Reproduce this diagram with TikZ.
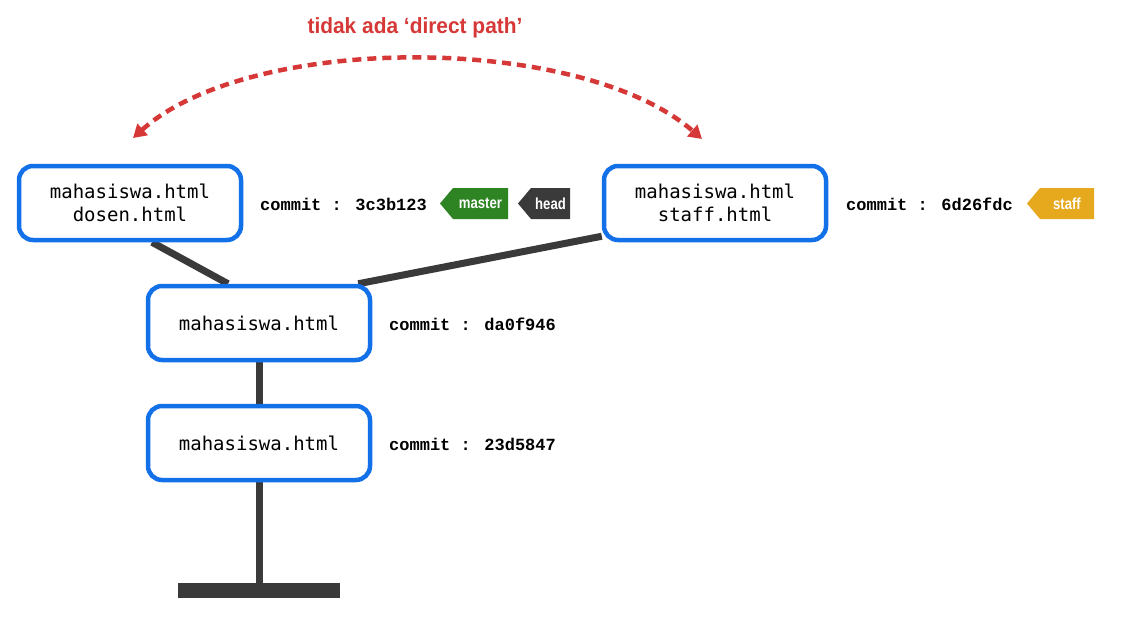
\documentclass[tikz,border=0pt]{standalone}
\usepackage{fontspec}
\setmainfont{Liberation Sans}
\newfontfamily\boxmono{DejaVu Sans Mono}
\newfontfamily\commitmono{Liberation Mono}
\usetikzlibrary{arrows.meta,backgrounds}
\definecolor{boxblue}{RGB}{18,112,232}
\definecolor{linegray}{RGB}{58,58,58}
\definecolor{tagred}{RGB}{214,56,56}
\definecolor{taggreen}{RGB}{46,132,34}
\definecolor{taggold}{RGB}{230,168,28}
\tikzset{
  filebox/.style={draw=boxblue, line width=4.5pt, rounded corners=14pt, fill=white,
    minimum width=222pt, minimum height=74pt, align=center,
    font=\boxmono\fontsize{19}{23}\selectfont, inner sep=0pt},
  commitlbl/.style={anchor=west, font=\commitmono\bfseries\fontsize{17}{20}\selectfont, inner sep=0pt},
  branch/.style={line width=7pt, draw=linegray},
  tagtext/.style={text=white, inner sep=0pt, font=\bfseries\fontsize{16}{18}\selectfont},
}
% tag: name, colour, left x, right x, text
\newcommand{\gittag}[5]{%
  \fill[#2] (#3,203.5) -- (#3+13,188) -- (#4,188) -- (#4,219) -- (#3+13,219) -- cycle;
  \node[tagtext] (#1) at ({(#3+13+#4)/2},203.5) {\scalebox{0.82}[1]{#5}};
}
\begin{document}
\begin{tikzpicture}[x=1pt,y=-1pt]
\useasboundingbox (0,0) rectangle (1131,625);
\begin{scope}[on background layer]
\fill[white] (0,0) rectangle (1131,625);
\end{scope}

\node[tagred, font=\bfseries\fontsize{22}{25}\selectfont] (title) at (415,28) {\scalebox{0.95}[1]{tidak ada ‘direct path’}};

\node[filebox] (A) at (130,203) {mahasiswa.html\\dosen.html};
\node[filebox] (D) at (715,203) {mahasiswa.html\\staff.html};
\node[filebox] (B) at (259,323) {mahasiswa.html};
\node[filebox] (C) at (259,443) {mahasiswa.html};
\node[fill=linegray, minimum width=162pt, minimum height=15pt, inner sep=0pt] (bar) at (259,590.5) {};

\node[commitlbl] (cA) at (260,204) {commit : 3c3b123};
\node[commitlbl] (cD) at (846,204) {commit : 6d26fdc};
\node[commitlbl] (cB) at (389,324) {commit : da0f946};
\node[commitlbl] (cC) at (389,444) {commit : 23d5847};

\gittag{master}{taggreen}{440}{508}{master}
\gittag{head}{linegray}{518}{570}{head}
\gittag{staff}{taggold}{1027}{1094}{staff}

\begin{scope}[on background layer]
\draw[branch] ([xshift=22pt]A.south) -- ([xshift=-31pt]B.north);
\draw[branch] ([yshift=6pt]D.south west) -- ([xshift=-14pt]B.north east);
\draw[branch] (B.south) -- (C.north);
\draw[branch] (C.south) -- (bar.north);
\end{scope}

\coordinate (arcL) at (133,138);
\coordinate (arcR) at (702,139);
\draw[tagred, line width=4.5pt, dash pattern=on 9pt off 6pt,
  {Triangle[length=13pt,width=15pt]}-{Triangle[length=13pt,width=15pt]}]
  (arcL) .. controls (250,33) and (580,33) .. (arcR);
\end{tikzpicture}
\end{document}
